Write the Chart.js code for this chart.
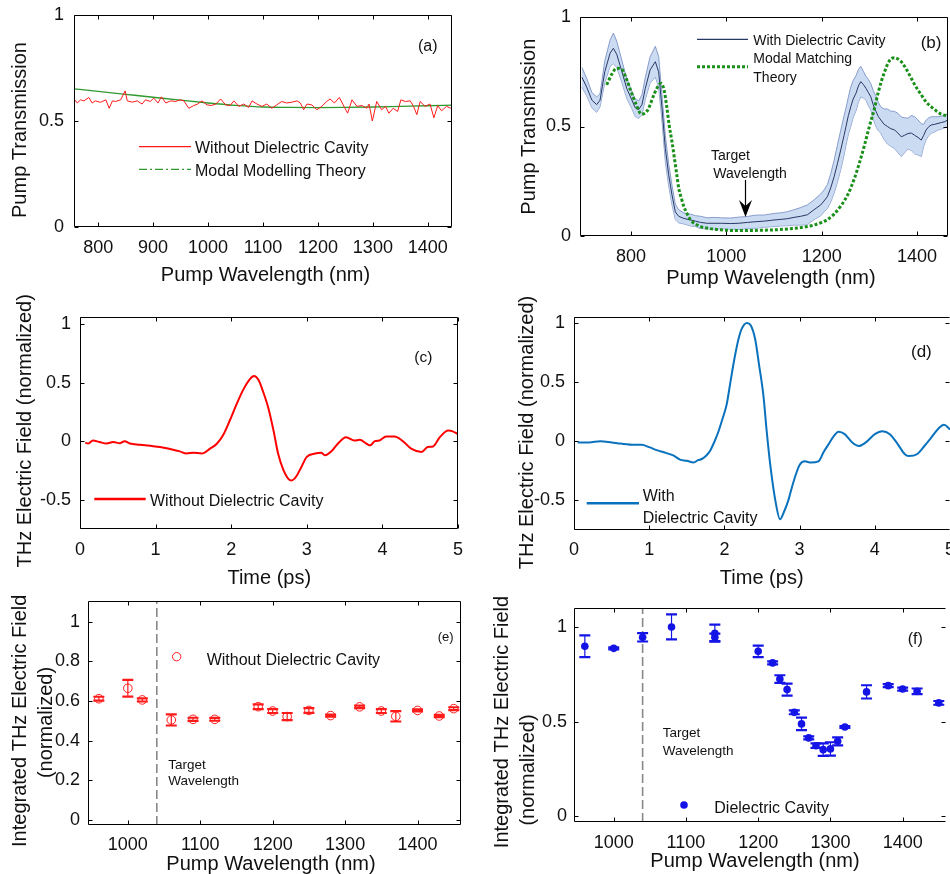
<!DOCTYPE html>
<html>
<head>
<meta charset="utf-8">
<title>Pump transmission and THz field</title>
<script src="https://cdn.jsdelivr.net/npm/chart.js@4.4.1/dist/chart.umd.min.js"></script>
<style>
  body { margin: 0; background: #fff; }
  #fig { position: relative; width: 950px; height: 874px; overflow: hidden; background: #fff; }
  #fig canvas { position: absolute; }
</style>
</head>
<body>
<div id="fig">
  <canvas id="panelA"></canvas>
  <canvas id="panelB"></canvas>
  <canvas id="panelC"></canvas>
  <canvas id="panelD"></canvas>
  <canvas id="panelE"></canvas>
  <canvas id="panelF"></canvas>
</div>
<script>
// (a) pump transmission, no cavity
var aWl = [756,762,768,774,783,789,795,804,814,820,826,832,841,849,853,862,871,880,886,895,901,909,915,923,932,941,949,956,965,974,981,989,998,1006,1014,1023,1032,1040,1047,1056,1065,1074,1080,1089,1098,1107,1116,1125,1134,1143,1153,1162,1168,1174,1180,1189,1198,1207,1216,1222,1230,1239,1246,1254,1262,1271,1280,1289,1293,1299,1307,1316,1323,1329,1337,1345,1351,1359,1368,1374,1380,1386,1395,1404,1411,1418,1425,1434,1442];
var aMeas = [0.604,0.585,0.600,0.595,0.611,0.585,0.595,0.588,0.600,0.560,0.595,0.592,0.600,0.642,0.595,0.589,0.595,0.580,0.600,0.592,0.608,0.585,0.614,0.585,0.595,0.592,0.600,0.595,0.560,0.573,0.580,0.595,0.576,0.573,0.580,0.604,0.576,0.573,0.595,0.569,0.580,0.564,0.595,0.580,0.569,0.580,0.560,0.576,0.592,0.585,0.589,0.595,0.585,0.553,0.580,0.576,0.553,0.569,0.592,0.604,0.585,0.611,0.576,0.537,0.600,0.569,0.573,0.560,0.580,0.500,0.592,0.553,0.569,0.537,0.560,0.545,0.600,0.592,0.595,0.569,0.530,0.592,0.569,0.580,0.515,0.573,0.548,0.569,0.560];
var aTheoryWl = [756,800,850,900,950,1000,1050,1100,1150,1200,1250,1300,1350,1400,1444];
var aTheory = [0.652,0.640,0.626,0.612,0.598,0.585,0.574,0.566,0.564,0.563,0.564,0.566,0.569,0.572,0.575];

// (b) pump transmission, with cavity (mean and spread) and theory
var bWl = [697,707,718,728,735,745,756,763,770,781,791,802,809,816,823,830,840,851,858,865,872,879,886,893,900,911,925,935,946,960,974,990,1009,1025,1044,1060,1080,1100,1115,1128,1142,1156,1170,1184,1198,1205,1212,1219,1226,1233,1240,1247,1251,1256,1261,1266,1272,1277,1282,1288,1293,1298,1303,1308,1314,1319,1324,1331,1338,1345,1353,1360,1367,1374,1381,1388,1395,1402,1409,1414,1419,1425,1430,1437,1444,1451,1458,1465];
var bMean = [0.725,0.68,0.62,0.60,0.62,0.75,0.834,0.857,0.83,0.75,0.674,0.62,0.585,0.577,0.60,0.674,0.758,0.796,0.75,0.585,0.40,0.28,0.187,0.11,0.09,0.08,0.073,0.068,0.062,0.058,0.058,0.058,0.057,0.058,0.062,0.065,0.068,0.073,0.076,0.079,0.085,0.09,0.097,0.12,0.142,0.16,0.18,0.22,0.27,0.33,0.393,0.46,0.50,0.55,0.59,0.625,0.652,0.685,0.705,0.69,0.674,0.655,0.636,0.60,0.568,0.545,0.53,0.51,0.50,0.49,0.484,0.47,0.453,0.46,0.468,0.47,0.46,0.45,0.438,0.46,0.484,0.50,0.507,0.51,0.514,0.518,0.522,0.53];
var bSpread = [0.045,0.04,0.035,0.035,0.03,0.05,0.06,0.07,0.06,0.05,0.045,0.04,0.04,0.04,0.045,0.05,0.06,0.07,0.07,0.06,0.06,0.05,0.045,0.035,0.03,0.025,0.027,0.025,0.028,0.025,0.027,0.025,0.025,0.028,0.027,0.03,0.028,0.03,0.03,0.032,0.035,0.04,0.045,0.045,0.05,0.05,0.055,0.065,0.075,0.085,0.09,0.09,0.085,0.085,0.09,0.085,0.08,0.075,0.07,0.06,0.055,0.06,0.06,0.065,0.07,0.065,0.06,0.07,0.08,0.08,0.085,0.09,0.09,0.08,0.07,0.08,0.085,0.08,0.075,0.05,0.045,0.04,0.038,0.035,0.03,0.03,0.028,0.03];
var bTheoryWl = [749,760,770,781,790,800,811,822,835,849,857,863,870,875,880,886,891,896,900,906,911,918,925,935,946,965,988,1020,1044,1072,1100,1142,1170,1184,1200,1212,1226,1240,1255,1269,1280,1290,1300,1311,1318,1325,1332,1339,1346,1353,1360,1367,1378,1388,1398,1409,1420,1430,1440,1451,1465];
var bTheory = [0.69,0.74,0.766,0.76,0.72,0.66,0.60,0.556,0.575,0.65,0.685,0.697,0.66,0.59,0.507,0.43,0.356,0.28,0.22,0.17,0.134,0.10,0.073,0.055,0.043,0.034,0.028,0.025,0.025,0.026,0.028,0.035,0.043,0.05,0.062,0.075,0.1,0.137,0.19,0.265,0.34,0.416,0.5,0.585,0.65,0.705,0.75,0.788,0.81,0.814,0.808,0.796,0.76,0.72,0.68,0.644,0.61,0.59,0.572,0.556,0.548];
var bArrowWl = 1040, bArrowFrom = 0.256, bArrowTo = 0.087;

// (c) THz waveform without cavity
var cTime = [0.07,0.11,0.17,0.26,0.35,0.44,0.53,0.59,0.66,0.79,0.93,1.06,1.19,1.32,1.41,1.50,1.61,1.72,1.81,1.89,1.98,2.07,2.16,2.25,2.30,2.36,2.42,2.49,2.56,2.62,2.69,2.75,2.80,2.86,2.93,3.00,3.11,3.19,3.24,3.33,3.41,3.52,3.63,3.70,3.79,3.84,3.90,3.96,4.05,4.16,4.27,4.38,4.52,4.60,4.67,4.76,4.87,4.93,4.99];
var cField = [-0.014,-0.02,0.006,-0.008,-0.02,-0.008,-0.017,0.0,-0.02,-0.03,-0.04,-0.05,-0.067,-0.087,-0.106,-0.098,-0.106,-0.064,-0.022,0.048,0.174,0.314,0.44,0.532,0.557,0.524,0.426,0.286,0.09,-0.106,-0.246,-0.317,-0.336,-0.302,-0.218,-0.134,-0.106,-0.1,-0.12,-0.084,-0.022,0.034,0.006,0.011,-0.022,-0.036,0.0,0.006,0.039,0.039,0.0,-0.064,-0.092,-0.05,-0.045,0.034,0.09,0.084,0.062];

// (d) THz waveform with cavity
var dTime = [0.05,0.2,0.35,0.5,0.62,0.8,0.9,1.0,1.1,1.23,1.32,1.41,1.5,1.59,1.65,1.7,1.76,1.81,1.87,1.92,1.98,2.03,2.08,2.14,2.19,2.23,2.3,2.35,2.41,2.46,2.52,2.56,2.61,2.68,2.74,2.79,2.85,2.88,2.94,3.0,3.07,3.15,3.25,3.32,3.39,3.45,3.52,3.6,3.7,3.79,3.88,4.0,4.1,4.2,4.3,4.4,4.45,4.56,4.66,4.75,4.85,4.92,5.0];
var dField = [-0.01,-0.01,0.0,-0.01,-0.02,-0.03,-0.03,-0.05,-0.075,-0.1,-0.12,-0.155,-0.165,-0.18,-0.16,-0.15,-0.12,-0.08,0.0,0.08,0.2,0.31,0.5,0.72,0.87,0.95,1.0,0.98,0.86,0.65,0.38,0.1,-0.2,-0.51,-0.66,-0.6,-0.5,-0.43,-0.3,-0.2,-0.17,-0.18,-0.17,-0.09,-0.02,0.04,0.08,0.06,-0.01,-0.04,-0.01,0.06,0.085,0.06,-0.02,-0.11,-0.125,-0.11,-0.04,0.03,0.11,0.14,0.1];

// (e) integrated field without cavity
var eWl = [960,1000,1020,1060,1090,1120,1180,1200,1220,1250,1280,1320,1350,1370,1400,1430,1450];
var eVal = [0.612,0.665,0.606,0.505,0.508,0.508,0.572,0.550,0.522,0.553,0.527,0.571,0.550,0.523,0.553,0.525,0.562];
var eErr = [0.01,0.042,0.008,0.028,0.008,0.007,0.012,0.01,0.018,0.012,0.005,0.006,0.01,0.026,0.005,0.006,0.007];

// (f) integrated field with cavity
var fWl = [960,1000,1040,1080,1140,1140,1200,1220,1230,1240,1250,1260,1270,1280,1290,1300,1310,1320,1350,1380,1400,1420,1450];
var fVal = [0.898,0.887,0.945,1.0,0.967,0.945,0.871,0.81,0.725,0.669,0.549,0.488,0.414,0.373,0.352,0.356,0.396,0.472,0.657,0.69,0.672,0.66,0.599];
var fErr = [0.057,0.005,0.022,0.066,0.045,0.02,0.03,0.008,0.02,0.032,0.01,0.033,0.008,0.012,0.033,0.035,0.021,0.005,0.035,0.008,0.008,0.015,0.01];

var targetWl = 1040;

// tick labels
var aXTicks = [800,900,1000,1100,1200,1300,1400];
var bXTicks = [800,1000,1200,1400];
var abYTicks = [0,0.5,1];
var cdXTicks = [0,1,2,3,4,5];
var cdYTicks = [-0.5,0,0.5,1];
var efXTicks = [1000,1100,1200,1300,1400];
var eYTicks = [0,0.2,0.4,0.6,0.8,1];
var fYTicks = [0,0.5,1];

var FONT = "'Liberation Sans', Arial, Helvetica, sans-serif";
var INK = '#111';

function pts(xs, ys, off, sign) {
  return xs.map(function(x, i) {
    return { x: x, y: ys[i] + (off ? sign * off[i] : 0) };
  });
}

function makeDecor(p) {
  return {
    id: 'decor' + p.id,
    afterDatasetsDraw: function(chart) {
      var ctx = chart.ctx, ca = chart.chartArea;
      var sx = chart.scales.x, sy = chart.scales.y;
      ctx.save();

      // error bars
      chart.data.datasets.forEach(function(ds) {
        if (!ds.errs) return;
        ctx.strokeStyle = ds.borderColor;
        ds.data.forEach(function(pt, i) {
          var px = sx.getPixelForValue(pt.x);
          var hi = sy.getPixelForValue(pt.y + ds.errs[i]);
          var lo = sy.getPixelForValue(pt.y - ds.errs[i]);
          ctx.lineWidth = 1.2;
          ctx.beginPath(); ctx.moveTo(px, hi); ctx.lineTo(px, lo); ctx.stroke();
          ctx.lineWidth = 2.2;
          ctx.beginPath();
          ctx.moveTo(px - 5.5, hi); ctx.lineTo(px + 5.5, hi);
          ctx.moveTo(px - 5.5, lo); ctx.lineTo(px + 5.5, lo);
          ctx.stroke();
        });
      });

      // arrow pointing at the target wavelength
      if (p.arrow) {
        var ax = Math.round(sx.getPixelForValue(p.arrow[0])) + 0.5;
        var y1 = sy.getPixelForValue(p.arrow[1]), y2 = sy.getPixelForValue(p.arrow[2]);
        ctx.strokeStyle = '#000'; ctx.lineWidth = 1.2;
        ctx.beginPath(); ctx.moveTo(ax, y1); ctx.lineTo(ax, y2 - 8); ctx.stroke();
        ctx.fillStyle = '#000';
        ctx.beginPath();
        ctx.moveTo(ax, y2); ctx.lineTo(ax - 6.5, y2 - 17); ctx.lineTo(ax, y2 - 11); ctx.lineTo(ax + 6.5, y2 - 17);
        ctx.closePath(); ctx.fill();
      }

      // axes box with inward ticks on all sides
      var l = Math.round(ca.left) + 0.5, r = Math.round(ca.right) - 0.5;
      var t = Math.round(ca.top) + 0.5, b = Math.round(ca.bottom) - 0.5;
      ctx.strokeStyle = '#000'; ctx.lineWidth = 1;
      ctx.beginPath();
      ctx.moveTo(r, t); ctx.lineTo(l, t); ctx.lineTo(l, b); ctx.lineTo(r, b);
      if (!p.openRight) { ctx.moveTo(r, t); ctx.lineTo(r, b); }
      sx.ticks.forEach(function(tk) {
        var x = Math.round(sx.getPixelForValue(tk.value)) + 0.5;
        ctx.moveTo(x, b); ctx.lineTo(x, b - 4);
        ctx.moveTo(x, t); ctx.lineTo(x, t + 4);
      });
      sy.ticks.forEach(function(tk) {
        var y = Math.round(sy.getPixelForValue(tk.value)) + 0.5;
        ctx.moveTo(l, y); ctx.lineTo(l + 4, y);
        ctx.moveTo(r, y); ctx.lineTo(r - 4, y);
      });
      ctx.stroke();

      // legend samples and text, in page coordinates
      ctx.translate(-p.box[0], -p.box[1]);
      (p.keys || []).forEach(function(k) {
        ctx.setLineDash(k.dash || []);
        if (k.r) {
          ctx.beginPath(); ctx.arc(k.x1, k.y, k.r, 0, Math.PI * 2);
          if (k.fill) { ctx.fillStyle = k.color; ctx.fill(); }
          else { ctx.strokeStyle = k.color; ctx.lineWidth = 1; ctx.stroke(); }
        } else {
          ctx.strokeStyle = k.color; ctx.lineWidth = k.w;
          ctx.beginPath(); ctx.moveTo(k.x1, k.y); ctx.lineTo(k.x2, k.y); ctx.stroke();
        }
      });
      ctx.setLineDash([]);
      ctx.fillStyle = INK;
      ctx.textBaseline = 'alphabetic';
      (p.texts || []).forEach(function(tx) {
        ctx.font = tx.s + 'px ' + FONT;
        if (tx.rot) {
          ctx.save();
          ctx.translate(tx.x, tx.y); ctx.rotate(-Math.PI / 2);
          ctx.textAlign = 'center';
          ctx.fillText(tx.t, 0, 0);
          ctx.restore();
        } else {
          ctx.textAlign = tx.a || 'left';
          ctx.fillText(tx.t, tx.x, tx.y);
        }
      });
      ctx.restore();
    }
  };
}

function makePanel(p) {
  var cv = document.getElementById(p.id);
  cv.width = p.box[2]; cv.height = p.box[3];
  cv.style.left = p.box[0] + 'px'; cv.style.top = p.box[1] + 'px';
  var ox = p.box[0], oy = p.box[1], a = p.area;

  function axis(range, ticks, pad, isX) {
    return {
      type: 'linear', min: range[0], max: range[1],
      grid: { display: false, drawTicks: false },
      border: { display: false },
      ticks: {
        padding: pad, color: INK, autoSkip: false, maxRotation: 0,
        font: { family: FONT, size: 18 },
        callback: function(v) { return String(v); }
      },
      afterBuildTicks: function(s) { s.ticks = ticks.map(function(v) { return { value: v }; }); },
      afterFit: isX
        ? function(s) { s.height = oy + p.box[3] - a[3]; s.paddingLeft = 0; s.paddingRight = 0; }
        : function(s) { s.width = a[0] - ox; s.paddingTop = 0; s.paddingBottom = 0; }
    };
  }

  return new Chart(cv, {
    type: 'scatter',
    data: { datasets: p.datasets },
    options: {
      responsive: false,
      animation: false,
      layout: { padding: { left: 0, bottom: 0, top: a[1] - oy, right: ox + p.box[2] - a[2] } },
      plugins: { legend: { display: false }, tooltip: { enabled: false } },
      scales: {
        x: axis(p.xr, p.xt, p.xpad, true),
        y: axis(p.yr, p.yt, p.ypad, false)
      }
    },
    plugins: [makeDecor(p)]
  });
}

function lineSet(data, color, width, extra) {
  var ds = { data: data, showLine: true, borderColor: color, borderWidth: width, pointRadius: 0, fill: false, tension: 0 };
  for (var k in extra) ds[k] = extra[k];
  return ds;
}

// (a)
makePanel({
  id: 'panelA', box: [0, 0, 470, 290], area: [74, 15, 452, 227],
  xr: [756, 1444], yr: [0, 1], xt: aXTicks, yt: abYTicks, xpad: 10, ypad: 10,
  datasets: [
    lineSet(pts(aWl, aMeas), '#ff1a1a', 1),
    lineSet(pts(aTheoryWl, aTheory), '#2f9a2f', 1.3, { cubicInterpolationMode: 'monotone' })
  ],
  keys: [
    { x1: 139, x2: 191, y: 146.7, color: '#ff1a1a', w: 1.2 },
    { x1: 139, x2: 191, y: 169.3, color: '#2f9a2f', w: 1.3, dash: [8, 3, 2, 3] }
  ],
  texts: [
    { t: 'Pump Wavelength (nm)', x: 265.5, y: 281, s: 20, a: 'center' },
    { t: 'Pump Transmission', x: 26, y: 130, s: 20, rot: true },
    { t: '(a)', x: 418, y: 50.5, s: 16 },
    { t: 'Without Dielectric Cavity', x: 195, y: 153, s: 16 },
    { t: 'Modal Modelling Theory', x: 195, y: 175.5, s: 16 }
  ]
});

// (b)
makePanel({
  id: 'panelB', box: [470, 0, 480, 290], area: [580, 17, 948, 236],
  xr: [693, 1465], yr: [0, 1], xt: bXTicks, yt: abYTicks, xpad: 10, ypad: 9,
  arrow: [bArrowWl, bArrowFrom, bArrowTo],
  datasets: [
    lineSet(pts(bTheoryWl, bTheory), '#1a8f1a', 3, { borderDash: [3, 2], cubicInterpolationMode: 'monotone' }),
    lineSet(pts(bWl, bMean), '#283865', 1),
    lineSet(pts(bWl, bMean, bSpread, 1), '#7d93c6', 0.9, { fill: '+1', backgroundColor: 'rgba(185,207,238,0.75)' }),
    lineSet(pts(bWl, bMean, bSpread, -1), '#7d93c6', 0.9)
  ],
  keys: [
    { x1: 697, x2: 748, y: 39.3, color: '#283865', w: 1.2 },
    { x1: 697, x2: 748, y: 66.7, color: '#1a8f1a', w: 3, dash: [3, 2] }
  ],
  texts: [
    { t: 'Pump Wavelength (nm)', x: 771, y: 283.6, s: 20, a: 'center' },
    { t: 'Pump Transmission', x: 535, y: 126.7, s: 20, rot: true },
    { t: '(b)', x: 920.7, y: 48.3, s: 17 },
    { t: 'With Dielectric Cavity', x: 753.3, y: 45, s: 14 },
    { t: 'Modal Matching', x: 753.3, y: 63.3, s: 14 },
    { t: 'Theory', x: 753.3, y: 81.7, s: 14 },
    { t: 'Target', x: 711, y: 160, s: 14 },
    { t: 'Wavelength', x: 713.3, y: 177.7, s: 14 }
  ]
});

// (c)
makePanel({
  id: 'panelC', box: [0, 290, 470, 298], area: [80, 317, 458, 529],
  xr: [0, 5], yr: [-0.75, 1.06], xt: cdXTicks, yt: cdYTicks, xpad: 10, ypad: 9,
  datasets: [
    lineSet(pts(cTime, cField), '#ff0000', 2, { cubicInterpolationMode: 'monotone' })
  ],
  keys: [
    { x1: 94.3, x2: 145.7, y: 499, color: '#ff0000', w: 2.5 }
  ],
  texts: [
    { t: 'Time (ps)', x: 269.3, y: 583.6, s: 20, a: 'center' },
    { t: 'THz Electric Field (normalized)', x: 31, y: 430.8, s: 20, rot: true },
    { t: '(c)', x: 414.3, y: 361.7, s: 15.5 },
    { t: 'Without Dielectric Cavity', x: 150, y: 505.5, s: 16 }
  ]
});

// (d)
makePanel({
  id: 'panelD', box: [470, 290, 480, 298], area: [574, 317, 950, 530],
  xr: [0, 5], yr: [-0.75, 1.05], xt: cdXTicks, yt: cdYTicks, xpad: 9.5, ypad: 9,
  openRight: true,
  datasets: [
    lineSet(pts(dTime, dField), '#0a72bd', 2, { cubicInterpolationMode: 'monotone' })
  ],
  keys: [
    { x1: 586.7, x2: 639, y: 503.3, color: '#0a72bd', w: 2.5 }
  ],
  texts: [
    { t: 'Time (ps)', x: 761.7, y: 583.6, s: 20, a: 'center' },
    { t: 'THz Electric Field (normalized)', x: 532.6, y: 432.5, s: 20, rot: true },
    { t: '(d)', x: 911, y: 356.7, s: 17 },
    { t: 'With', x: 642.7, y: 500.8, s: 16 },
    { t: 'Dielectric Cavity', x: 642.7, y: 522.5, s: 16 }
  ]
});

// (e)
makePanel({
  id: 'panelE', box: [0, 588, 470, 286], area: [88, 601, 461, 825],
  xr: [945, 1460], yr: [-0.025, 1.105], xt: efXTicks, yt: eYTicks, xpad: 9.5, ypad: 8,
  datasets: [
    { data: pts(eWl, eVal), errs: eErr, showLine: false, borderColor: '#ff1a1a', pointRadius: 4.3,
      pointBorderWidth: 1, pointBorderColor: '#ff1a1a', pointBackgroundColor: 'rgba(255,255,255,0)' },
    lineSet([{ x: targetWl, y: -0.025 }, { x: targetWl, y: 1.105 }], '#888', 1.6, { borderDash: [9, 4] })
  ],
  keys: [
    { x1: 176.7, y: 656.7, r: 4.2, color: '#ff1a1a' }
  ],
  texts: [
    { t: 'Pump Wavelength (nm)', x: 271, y: 870, s: 20, a: 'center' },
    { t: 'Integrated THz Electric Field', x: 26, y: 720.8, s: 20, rot: true },
    { t: '(normalized)', x: 52, y: 722.5, s: 20, rot: true },
    { t: '(e)', x: 437.7, y: 641, s: 13 },
    { t: 'Without Dielectric Cavity', x: 206.7, y: 664.8, s: 16 },
    { t: 'Target', x: 168.3, y: 768.7, s: 13.5 },
    { t: 'Wavelength', x: 168.3, y: 785.4, s: 13.5 }
  ]
});

// (f)
makePanel({
  id: 'panelF', box: [470, 588, 480, 286], area: [574, 608, 950, 822],
  xr: [945, 1460], yr: [-0.03, 1.1], xt: efXTicks, yt: fYTicks, xpad: 10, ypad: 7,
  openRight: true,
  datasets: [
    { data: pts(fWl, fVal), errs: fErr, showLine: false, borderColor: '#1414e6', pointRadius: 3.8,
      pointBorderWidth: 0, pointBackgroundColor: '#1414e6' },
    lineSet([{ x: targetWl, y: -0.03 }, { x: targetWl, y: 1.1 }], '#888', 1.6, { borderDash: [9, 4] })
  ],
  keys: [
    { x1: 684, y: 805, r: 3.8, color: '#1414e6', fill: true }
  ],
  texts: [
    { t: 'Pump Wavelength (nm)', x: 755, y: 867, s: 20, a: 'center' },
    { t: 'Integrated THz Electric Field', x: 507.6, y: 722, s: 20, rot: true },
    { t: '(normalized)', x: 533.6, y: 770, s: 20, rot: true },
    { t: '(f)', x: 907.7, y: 644.3, s: 16 },
    { t: 'Dielectric Cavity', x: 714.3, y: 812.5, s: 16 },
    { t: 'Target', x: 662.7, y: 737.4, s: 13.5 },
    { t: 'Wavelength', x: 662.7, y: 754.7, s: 13.5 }
  ]
});
</script>
</body>
</html>
